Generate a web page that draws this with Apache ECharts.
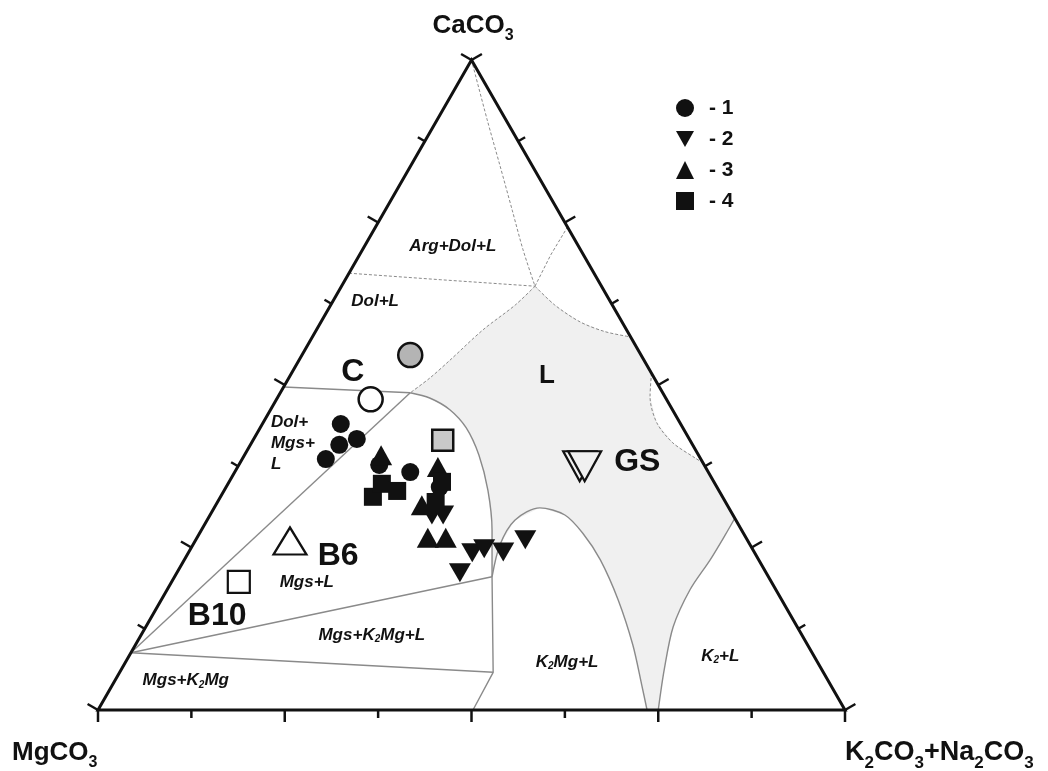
<!DOCTYPE html>
<html>
<head>
<meta charset="utf-8">
<title>CaCO3 – MgCO3 – K2CO3+Na2CO3</title>
<script src="https://cdn.jsdelivr.net/npm/echarts@6/dist/echarts.min.js"></script>
<style>
  html, body { margin: 0; padding: 0; background: #ffffff; }
  #chart { width: 1048px; height: 771px; }
</style>
</head>
<body>
<div id="chart"></div>
<script>
// Compositions are [CaCO3 %, K2CO3+Na2CO3 %]; MgCO3 is the remainder to 100 %.

// Sample groups 1-4
const seriesNames = ['1', '2', '3', '4'];
const group1 = [[44.0, 10.5], [40.8, 11.9], [41.7, 13.8], [38.6, 11.2], [37.7, 18.8], [36.6, 23.5], [34.3, 28.6]];
const group2 = [[30.0, 29.7], [30.0, 31.2], [21.1, 37.9], [24.2, 38.0], [24.8, 39.3], [24.3, 42.1], [26.2, 44.1]];
const group3 = [[39.2, 18.3], [37.4, 26.8], [31.5, 27.6], [26.5, 30.9], [26.5, 33.3]];
const group4 = [[32.8, 20.4], [34.8, 20.6], [33.7, 23.2], [35.1, 28.5], [32.0, 29.2]];

// Single reference compositions
const greyCircle = [54.6, 14.5];
const greySquare = [41.5, 25.4];
const pointC = [47.8, 12.6];
const pointGS = [37.5, 46.4];
const pointB6 = [26.0, 12.7];
const pointB10 = [19.7, 9.0];
const pointNames = ['C', 'GS', 'B6', 'B10'];
const pointNameAt = [[52.0, 8.1], [38.2, 53.1], [23.7, 20.3], [14.5, 8.7]];

// Field boundaries (solid)
const bDolMgsUpper = [[49.7, 0], [48.8, 17.4]];
const bDolMgsLower = [[48.8, 17.4], [8.8, 0]];
const bMgsLower = [[8.8, 0], [20.5, 42.5]];
const bMgsK2Mg = [[8.8, 0], [5.8, 50.0]];
const bK2MgLeft = [[20.5, 42.5], [5.8, 50.0], [0, 50.2]];
const bLiquidLeft = [[48.8, 17.4], [48.0, 20.4], [46.2, 24.0], [43.4, 27.6], [39.2, 31.4], [33.8, 35.3], [27.7, 38.9], [20.5, 42.5]];
const bK2MgDome = [[20.5, 42.5], [25.4, 41.1], [29.2, 41.2], [31.1, 43.6], [30.0, 47.5], [27.2, 51.3], [23.1, 55.7], [16.9, 61.2], [10.0, 66.6], [3.8, 70.9], [0, 73.5]];
const bK2Liquid = [[0, 75.0], [6.2, 72.7], [12.8, 70.6], [18.5, 70.0], [23.1, 70.4], [26.9, 70.5], [29.5, 70.5]];

// Field boundaries (dashed)
const dApex = [[100, 0], [90.8, 6.7], [83.8, 11.9], [76.9, 17.0], [70.8, 21.5], [65.2, 25.9]];
const dArgRight = [[65.2, 25.9], [70.0, 25.6], [74.3, 25.7]];
const dArgDol = [[67.2, 0], [66.2, 12.7], [65.2, 25.9]];
const dDolLiquid = [[65.2, 25.9], [62.3, 24.7], [58.5, 22.3], [53.8, 20.2], [51.1, 18.9], [48.8, 17.4]];
const dLiquidUpper = [[65.2, 25.9], [62.3, 30.0], [59.7, 34.7], [58.2, 38.8], [57.4, 42.6]];
const dLiquidSmall = [[51.8, 48.2], [48.2, 49.8], [44.2, 52.7], [41.1, 56.4], [38.8, 60.5], [38.0, 62.0]];

// Field names
const fieldNames = ['Arg+Dol+L', 'Dol+L', 'Dol+\nMgs+\nL', 'Mgs+L', 'Mgs+K{s|2}Mg+L', 'Mgs+K{s|2}Mg', 'K{s|2}Mg+L', 'K{s|2}+L'];
const fieldNameAt = [[71.4, 11.8], [62.8, 5.7], [41.1, 2.6], [19.7, 18.1], [11.5, 30.9], [4.5, 9.5], [7.4, 59.1], [8.2, 79.2]];
const liquidName = 'L';
const liquidNameAt = [51.4, 34.4];

// Corner components
const cornerNames = ['MgCO{s|3}', 'K{s|2}CO{s|3}+Na{s|2}CO{s|3}', 'CaCO{s|3}'];
const tickCount = 8;

const H = Math.sqrt(3) / 2;
const toXY = p => [(p[1] + p[0] / 2) / 100, (p[0] / 100) * H];

const FONT = '"Liberation Sans", Arial, Helvetica, sans-serif';
const INK = '#111111';
const GREY = '#8a8a8a';
const SHADE = '#f0f0f0';
const DOWN = 'path://M0,0L20,0L10,18Z';

// Closed outline of the liquid field
const liquidField = [].concat(
  bLiquidLeft,
  bK2MgDome.slice(1),
  bK2Liquid,
  dLiquidSmall.slice().reverse(),
  dLiquidUpper.slice().reverse(),
  dDolLiquid.slice(1)
);

function boundary(pts, dashed) {
  return {
    type: 'line',
    data: pts.map(toXY),
    symbol: 'none',
    smooth: pts.length > 3 ? 0.3 : false,
    clip: false,
    silent: true,
    z: 3,
    lineStyle: { color: GREY, width: dashed ? 1 : 1.4, type: dashed ? [3, 2] : 'solid' }
  };
}

function scatter(name, pts, symbol, size, fill, border, extra) {
  return Object.assign({
    name: name,
    type: 'scatter',
    data: pts.map(toXY),
    symbol: symbol,
    symbolSize: size,
    clip: false,
    silent: true,
    z: 6,
    itemStyle: { color: fill, borderColor: INK, borderWidth: border, opacity: 1 }
  }, extra || {});
}

const subRich = (size, drop, italic) => ({
  s: { fontSize: size, fontWeight: 'bold', fontStyle: italic ? 'italic' : 'normal', fontFamily: FONT, fill: INK, padding: [drop, 0, 0, 0] }
});

const chart = echarts.init(document.getElementById('chart'), null, { renderer: 'canvas' });

chart.setOption({
  animation: false,
  backgroundColor: '#ffffff',
  grid: { left: 98, top: 60, width: 747, height: 650 },
  xAxis: { type: 'value', min: 0, max: 1, show: false },
  yAxis: { type: 'value', min: 0, max: H, show: false },
  legend: {
    orient: 'vertical',
    left: 671,
    top: 92,
    itemWidth: 18,
    itemHeight: 18,
    itemGap: 9,
    selectedMode: false,
    data: [
      { name: seriesNames[0], icon: 'circle' },
      { name: seriesNames[1], icon: DOWN },
      { name: seriesNames[2], icon: 'triangle' },
      { name: seriesNames[3], icon: 'rect' }
    ],
    formatter: '- {name}',
    textStyle: { fontSize: 21, fontWeight: 'bold', fontFamily: FONT, color: INK, lineHeight: 22, padding: [0, 0, 0, 10] }
  },
  graphic: [
    {
      type: 'text', x: 473, y: 26, z: 10,
      style: { text: cornerNames[2], fontSize: 26, fontWeight: 'bold', fontFamily: FONT, fill: INK, align: 'center', verticalAlign: 'middle', rich: subRich(16, 20, false) }
    },
    {
      type: 'text', x: 12, y: 753, z: 10,
      style: { text: cornerNames[0], fontSize: 26, fontWeight: 'bold', fontFamily: FONT, fill: INK, align: 'left', verticalAlign: 'middle', rich: subRich(16, 20, false) }
    },
    {
      type: 'text', x: 845, y: 753, z: 10,
      style: { text: cornerNames[1], fontSize: 27, fontWeight: 'bold', fontFamily: FONT, fill: INK, align: 'left', verticalAlign: 'middle', rich: subRich(17, 20, false) }
    }
  ],
  series: [
    // shaded liquid field
    {
      type: 'custom',
      coordinateSystem: 'cartesian2d',
      data: [[0, 0]],
      silent: true,
      clip: false,
      z: 1,
      renderItem: (params, api) => ({
        type: 'polygon',
        shape: { points: liquidField.map(p => api.coord(toXY(p))) },
        style: { fill: SHADE, stroke: null }
      })
    },
    boundary(bDolMgsUpper, false),
    boundary(bDolMgsLower, false),
    boundary(bMgsLower, false),
    boundary(bMgsK2Mg, false),
    boundary(bK2MgLeft, false),
    boundary(bLiquidLeft, false),
    boundary(bK2MgDome, false),
    boundary(bK2Liquid, false),
    boundary(dApex, true),
    boundary(dArgRight, true),
    boundary(dArgDol, true),
    boundary(dDolLiquid, true),
    boundary(dLiquidUpper, true),
    boundary(dLiquidSmall, true),
    // triangle frame with outward ticks
    {
      type: 'custom',
      coordinateSystem: 'cartesian2d',
      data: [[0, 0]],
      silent: true,
      clip: false,
      z: 4,
      renderItem: (params, api) => {
        const V = [[0, 0], [0, 100], [100, 0]].map(p => api.coord(toXY(p)));
        const cx = (V[0][0] + V[1][0] + V[2][0]) / 3;
        const cy = (V[0][1] + V[1][1] + V[2][1]) / 3;
        const children = [{
          type: 'polygon',
          shape: { points: V },
          style: { fill: null, stroke: INK, lineWidth: 3, lineJoin: 'miter' }
        }];
        for (let e = 0; e < 3; e++) {
          const P = V[e], Q = V[(e + 1) % 3];
          const dx = Q[0] - P[0], dy = Q[1] - P[1];
          const len = Math.hypot(dx, dy);
          let nx = dy / len, ny = -dx / len;
          const mx = (P[0] + Q[0]) / 2 - cx, my = (P[1] + Q[1]) / 2 - cy;
          if (nx * mx + ny * my < 0) { nx = -nx; ny = -ny; }
          for (let i = 0; i <= tickCount; i++) {
            const t = i / tickCount;
            const x0 = P[0] + dx * t, y0 = P[1] + dy * t;
            const L = i % 2 === 0 ? 12 : 8;
            children.push({
              type: 'line',
              shape: { x1: x0, y1: y0, x2: x0 + nx * L, y2: y0 + ny * L },
              style: { stroke: INK, lineWidth: 2.5 }
            });
          }
        }
        return { type: 'group', children: children };
      }
    },
    // reference compositions
    scatter('grey circle', [greyCircle], 'circle', 24, '#b4b4b4', 2.5),
    scatter('C point', [pointC], 'circle', 24, '#ffffff', 2.5),
    scatter('grey square', [greySquare], 'rect', 21, '#c9c9c9', 2.5),
    scatter('GS back', [pointGS], DOWN, [33, 30], SHADE, 2.2, { symbolOffset: [-5, 0] }),
    scatter('GS', [pointGS], DOWN, [33, 30], SHADE, 2.2),
    scatter('B6 point', [pointB6], 'triangle', [33, 27], '#ffffff', 2.2),
    scatter('B10 point', [pointB10], 'rect', 22, '#ffffff', 2.2),
    // sample groups
    scatter(seriesNames[0], group1, 'circle', 18, INK, 0),
    scatter(seriesNames[1], group2, DOWN, [22, 19], INK, 0),
    scatter(seriesNames[2], group3, 'triangle', [22, 20], INK, 0),
    scatter(seriesNames[3], group4, 'rect', 18, INK, 0),
    // field and point names
    {
      type: 'custom',
      coordinateSystem: 'cartesian2d',
      data: [[0, 0]],
      silent: true,
      clip: false,
      z: 8,
      renderItem: (params, api) => {
        const children = [];
        fieldNames.forEach((txt, i) => {
          const c = api.coord(toXY(fieldNameAt[i]));
          const multi = txt.indexOf('\n') >= 0;
          children.push({
            type: 'text',
            x: c[0], y: c[1],
            style: {
              text: txt, fontSize: 17, fontWeight: 'bold', fontStyle: 'italic', fontFamily: FONT, fill: INK,
              align: multi ? 'left' : 'center', verticalAlign: 'middle', lineHeight: multi ? 21 : 20,
              rich: subRich(10, 8, true)
            }
          });
        });
        const lc = api.coord(toXY(liquidNameAt));
        children.push({
          type: 'text', x: lc[0], y: lc[1],
          style: { text: liquidName, fontSize: 26, fontWeight: 'bold', fontFamily: FONT, fill: INK, align: 'center', verticalAlign: 'middle' }
        });
        pointNames.forEach((txt, i) => {
          const c = api.coord(toXY(pointNameAt[i]));
          children.push({
            type: 'text', x: c[0], y: c[1],
            style: { text: txt, fontSize: 32, fontWeight: 'bold', fontFamily: FONT, fill: INK, align: 'center', verticalAlign: 'middle' }
          });
        });
        return { type: 'group', children: children };
      }
    }
  ]
});
</script>
</body>
</html>
